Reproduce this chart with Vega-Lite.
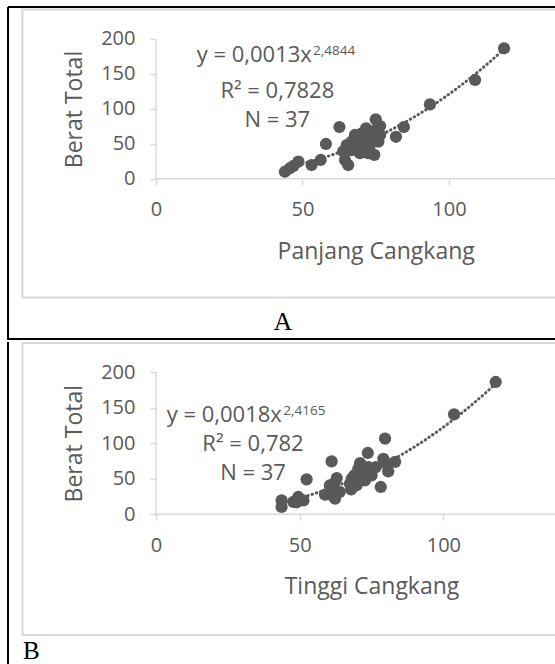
{
  "$schema": "https://vega.github.io/schema/vega-lite/v6.json",
  "padding": 0,
  "background": "white",
  "spacing": 0,
  "config": {
    "view": {"stroke": null},
    "axis": {
      "domain": false, "grid": false,
      "tickColor": "#d9d9d9", "tickSize": 6, "tickWidth": 1.5,
      "labelFont": "Open Sans", "labelFontSize": 20, "labelColor": "#595959", "labelPadding": 15,
      "titleFont": "Open Sans", "titleFontSize": 23, "titleFontWeight": "normal", "titleColor": "#595959"
    }
  },
  "datasets": {
    "one": [{}],
    "ptsA": [
      {"x":118.8,"y":186.7},{"x":108.9,"y":141.3},{"x":93.5,"y":106.5},{"x":84.6,"y":74},{"x":81.9,"y":60},{"x":75,"y":85},{"x":76.5,"y":75.4},{"x":62.6,"y":74},{"x":58,"y":49.7},{"x":56.2,"y":26.8},{"x":53.1,"y":19.6},{"x":48.6,"y":24.4},{"x":46.9,"y":18.2},{"x":45.7,"y":15},{"x":44,"y":10},{"x":65.6,"y":19.6},{"x":64.5,"y":26.8},{"x":74.5,"y":34},{"x":71.7,"y":72},{"x":76.5,"y":62.6},{"x":75.9,"y":53},{"x":67.9,"y":62.6},{"x":66.8,"y":53},{"x":65.1,"y":48},{"x":65.6,"y":41},{"x":69.6,"y":45.5},{"x":70.8,"y":55},{"x":73,"y":60},{"x":73,"y":48},{"x":69.6,"y":36.6},{"x":71.7,"y":43.8},{"x":74.7,"y":69},{"x":68.5,"y":53},{"x":66.8,"y":41},{"x":72.4,"y":36.6},{"x":63.9,"y":39},{"x":70.2,"y":65}
    ],
    "trendA": [
      {"x":44,"y":15.7},{"x":50,"y":21.6},{"x":55,"y":27.4},{"x":60,"y":34.0},{"x":65,"y":41.5},{"x":70,"y":49.9},{"x":75,"y":59.2},{"x":80,"y":69.5},{"x":85,"y":80.8},{"x":90,"y":93.1},{"x":95,"y":106.5},{"x":100,"y":121.0},{"x":105,"y":136.6},{"x":110,"y":153.3},{"x":115,"y":171.2},{"x":118.8,"y":185.6}
    ],
    "ptsB": [
      {"x":118.2,"y":186},{"x":103.7,"y":140.5},{"x":79.7,"y":106.3},{"x":73.7,"y":86.2},{"x":61.1,"y":74.5},{"x":52.4,"y":49.2},{"x":83.2,"y":73.8},{"x":79.1,"y":78},{"x":80.8,"y":60.4},{"x":78.2,"y":38.4},{"x":71,"y":72},{"x":70.4,"y":64.1},{"x":73.9,"y":66.4},{"x":75,"y":54.8},{"x":68.1,"y":50},{"x":69.8,"y":40.8},{"x":67.9,"y":35.1},{"x":62.9,"y":51},{"x":61.9,"y":43},{"x":60.5,"y":40.8},{"x":58.8,"y":27.6},{"x":61.6,"y":25.7},{"x":63.9,"y":31.5},{"x":51.3,"y":19.7},{"x":49.5,"y":24.4},{"x":47.8,"y":17.4},{"x":43.7,"y":19.7},{"x":43.7,"y":10.3},{"x":49,"y":16.9},{"x":80.3,"y":71},{"x":76.5,"y":66.4},{"x":72.1,"y":59},{"x":69,"y":54.8},{"x":72.7,"y":47.8},{"x":67.5,"y":43},{"x":62.3,"y":22},{"x":71,"y":50}
    ],
    "trendB": [
      {"x":43.7,"y":16.6},{"x":50,"y":22.9},{"x":55,"y":28.9},{"x":60,"y":35.6},{"x":65,"y":43.3},{"x":70,"y":51.7},{"x":75,"y":61.1},{"x":80,"y":71.4},{"x":85,"y":82.8},{"x":90,"y":95.0},{"x":95,"y":108.3},{"x":100,"y":122.5},{"x":105,"y":137.9},{"x":110,"y":154.3},{"x":115,"y":171.8},{"x":118.2,"y":183.6}
    ]
  },
  "vconcat": [
    {
      "width": 555, "height": 340,
      "layer": [
        {
          "data": {"name": "one"},
          "mark": {"type": "rule", "color": "black", "strokeWidth": 2},
          "encoding": {
            "x": {"datum": -50.5, "type": "quantitative", "scale": {"domain": [-53.24, 136.18], "nice": false, "zero": false}},
            "y": {"datum": 245.8, "type": "quantitative", "scale": {"domain": [-230.9, 255.8], "nice": false, "zero": false}},
            "y2": {"datum": -230.9}
          }
        },
        {
          "data": {"name": "one"},
          "mark": {"type": "rule", "color": "black", "strokeWidth": 2, "clip": true},
          "encoding": {"x": {"datum": -50.5, "type": "quantitative"}, "x2": {"datum": 150}, "y": {"datum": 245.8, "type": "quantitative"}}
        },
        {
          "data": {"name": "one"},
          "mark": {"type": "rule", "color": "black", "strokeWidth": 2, "clip": true},
          "encoding": {"x": {"datum": -50.5, "type": "quantitative"}, "x2": {"datum": 150}, "y": {"datum": -229.5, "type": "quantitative"}}
        },
        {
          "data": {"name": "one"},
          "mark": {"type": "rect", "filled": false, "color": "#d9d9d9", "strokeWidth": 2, "clip": true},
          "encoding": {"x": {"datum": -45.6, "type": "quantitative"}, "x2": {"datum": 150}, "y": {"datum": 242.2, "type": "quantitative"}, "y2": {"datum": -170.1}}
        },
        {
          "data": {"name": "one"},
          "mark": {"type": "rule", "color": "#d9d9d9", "strokeWidth": 1.5},
          "encoding": {"x": {"datum": 0, "type": "quantitative"}, "y": {"datum": 0, "type": "quantitative"}, "y2": {"datum": 200}}
        },
        {
          "data": {"name": "one"},
          "mark": {"type": "rule", "color": "#d9d9d9", "strokeWidth": 1.5, "clip": true},
          "encoding": {"x": {"datum": 0, "type": "quantitative"}, "x2": {"datum": 150}, "y": {"datum": 0, "type": "quantitative"}}
        },
        {
          "data": {"name": "trendA"},
          "mark": {"type": "line", "color": "#595959", "strokeWidth": 3, "strokeDash": [0.5, 4], "strokeCap": "round", "interpolate": "monotone"},
          "encoding": {"x": {"field": "x", "type": "quantitative"}, "y": {"field": "y", "type": "quantitative"}}
        },
        {
          "data": {"name": "ptsA"},
          "mark": {"type": "circle", "color": "#595959", "opacity": 1, "size": 150},
          "encoding": {
            "x": {"field": "x", "type": "quantitative", "axis": {"title": "Panjang Cangkang", "values": [0, 50, 100], "offset": -161.3, "titleX": 375.7, "titleY": 79.3, "titleAlign": "center", "titleBaseline": "alphabetic"}},
            "y": {"field": "y", "type": "quantitative", "axis": {"title": "Berat Total", "values": [0, 50, 100, 150, 200], "offset": -156, "titleX": -82, "titleY": 109, "titleAngle": -90, "titleAlign": "center", "titleBaseline": "middle"}}
          }
        },
        {
          "data": {"name": "one"},
          "mark": {"type": "text", "font": "Open Sans", "fontSize": 22, "color": "#595959", "align": "right", "baseline": "alphabetic"},
          "encoding": {"x": {"datum": 53.2, "type": "quantitative"}, "y": {"datum": 167.5, "type": "quantitative"}, "text": {"value": "y = 0,0013x"}}
        },
        {
          "data": {"name": "one"},
          "mark": {"type": "text", "font": "Open Sans", "fontSize": 13.5, "color": "#595959", "align": "left", "baseline": "alphabetic"},
          "encoding": {"x": {"datum": 53.6, "type": "quantitative"}, "y": {"datum": 177, "type": "quantitative"}, "text": {"value": "2,4844"}}
        },
        {
          "data": {"name": "one"},
          "mark": {"type": "text", "font": "Open Sans", "fontSize": 22, "color": "#595959", "align": "center", "baseline": "alphabetic"},
          "encoding": {"x": {"datum": 41.4, "type": "quantitative"}, "y": {"datum": 115.1, "type": "quantitative"}, "text": {"value": "R² = 0,7828"}}
        },
        {
          "data": {"name": "one"},
          "mark": {"type": "text", "font": "Open Sans", "fontSize": 22, "color": "#595959", "align": "center", "baseline": "alphabetic"},
          "encoding": {"x": {"datum": 41.4, "type": "quantitative"}, "y": {"datum": 74.4, "type": "quantitative"}, "text": {"value": "N = 37"}}
        },
        {
          "data": {"name": "one"},
          "mark": {"type": "text", "font": "Liberation Serif", "fontSize": 26, "color": "black", "align": "center", "baseline": "alphabetic"},
          "encoding": {"x": {"datum": 43.3, "type": "quantitative"}, "y": {"datum": -216.6, "type": "quantitative"}, "text": {"value": "A"}}
        }
      ]
    },
    {
      "width": 555, "height": 324,
      "layer": [
        {
          "data": {"name": "one"},
          "mark": {"type": "rule", "color": "black", "strokeWidth": 2},
          "encoding": {
            "x": {"datum": -51.5, "type": "quantitative", "scale": {"domain": [-54.28, 138.83], "nice": false, "zero": false}},
            "y": {"datum": 242.2, "type": "quantitative", "scale": {"domain": [-213.2, 242.2], "nice": false, "zero": false}},
            "y2": {"datum": -213.2}
          }
        },
        {
          "data": {"name": "one"},
          "mark": {"type": "rect", "filled": false, "color": "#d9d9d9", "strokeWidth": 2, "clip": true},
          "encoding": {"x": {"datum": -46.45, "type": "quantitative"}, "x2": {"datum": 150}, "y": {"datum": 240.8, "type": "quantitative"}, "y2": {"datum": -169.6}}
        },
        {
          "data": {"name": "one"},
          "mark": {"type": "rule", "color": "#d9d9d9", "strokeWidth": 1.5},
          "encoding": {"x": {"datum": 0, "type": "quantitative"}, "y": {"datum": 0, "type": "quantitative"}, "y2": {"datum": 200}}
        },
        {
          "data": {"name": "one"},
          "mark": {"type": "rule", "color": "#d9d9d9", "strokeWidth": 1.5, "clip": true},
          "encoding": {"x": {"datum": 0, "type": "quantitative"}, "x2": {"datum": 150}, "y": {"datum": 0, "type": "quantitative"}}
        },
        {
          "data": {"name": "trendB"},
          "mark": {"type": "line", "color": "#595959", "strokeWidth": 3, "strokeDash": [0.5, 4], "strokeCap": "round", "interpolate": "monotone"},
          "encoding": {"x": {"field": "x", "type": "quantitative"}, "y": {"field": "y", "type": "quantitative"}}
        },
        {
          "data": {"name": "ptsB"},
          "mark": {"type": "circle", "color": "#595959", "opacity": 1, "size": 150},
          "encoding": {
            "x": {"field": "x", "type": "quantitative", "axis": {"title": "Tinggi Cangkang", "values": [0, 50, 100], "offset": -151.7, "titleX": 371.5, "titleY": 79.4, "titleAlign": "center", "titleBaseline": "alphabetic"}},
            "y": {"field": "y", "type": "quantitative", "axis": {"title": "Berat Total", "values": [0, 50, 100, 150, 200], "offset": -156, "titleX": -82, "titleY": 101.2, "titleAngle": -90, "titleAlign": "center", "titleBaseline": "middle"}}
          }
        },
        {
          "data": {"name": "one"},
          "mark": {"type": "text", "font": "Open Sans", "fontSize": 22, "color": "#595959", "align": "right", "baseline": "alphabetic"},
          "encoding": {"x": {"datum": 43.8, "type": "quantitative"}, "y": {"datum": 129.7, "type": "quantitative"}, "text": {"value": "y = 0,0018x"}}
        },
        {
          "data": {"name": "one"},
          "mark": {"type": "text", "font": "Open Sans", "fontSize": 13.5, "color": "#595959", "align": "left", "baseline": "alphabetic"},
          "encoding": {"x": {"datum": 44.3, "type": "quantitative"}, "y": {"datum": 140, "type": "quantitative"}, "text": {"value": "2,4165"}}
        },
        {
          "data": {"name": "one"},
          "mark": {"type": "text", "font": "Open Sans", "fontSize": 22, "color": "#595959", "align": "center", "baseline": "alphabetic"},
          "encoding": {"x": {"datum": 33.75, "type": "quantitative"}, "y": {"datum": 88.5, "type": "quantitative"}, "text": {"value": "R² = 0,782"}}
        },
        {
          "data": {"name": "one"},
          "mark": {"type": "text", "font": "Open Sans", "fontSize": 22, "color": "#595959", "align": "center", "baseline": "alphabetic"},
          "encoding": {"x": {"datum": 33.75, "type": "quantitative"}, "y": {"datum": 47.8, "type": "quantitative"}, "text": {"value": "N = 37"}}
        },
        {
          "data": {"name": "one"},
          "mark": {"type": "text", "font": "Liberation Serif", "fontSize": 25, "color": "black", "align": "left", "baseline": "bottom"},
          "encoding": {"x": {"datum": -46.3, "type": "quantitative"}, "y": {"datum": -210.5, "type": "quantitative"}, "text": {"value": "B"}}
        }
      ]
    }
  ]
}
